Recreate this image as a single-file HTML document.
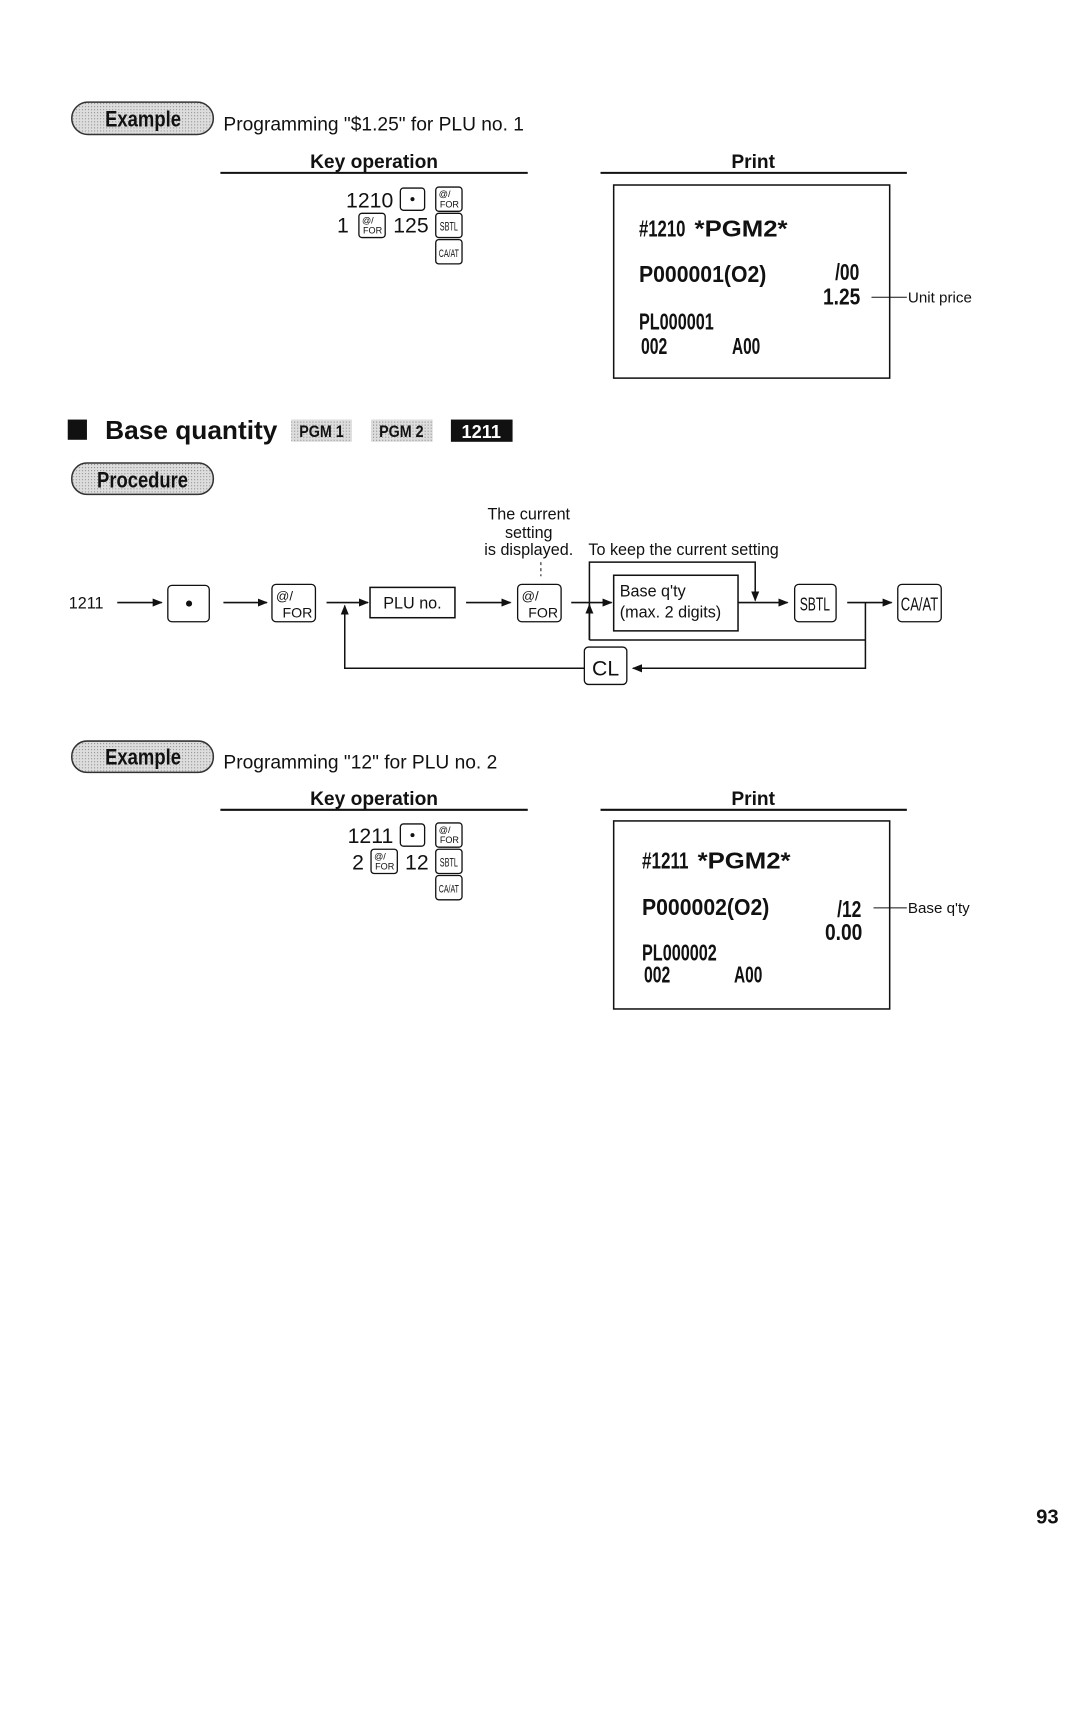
<!DOCTYPE html>
<html><head><meta charset="utf-8"><style>
html,body{margin:0;padding:0;background:#fff;}
svg{display:block;}
text{font-family:"Liberation Sans",sans-serif;fill:#111;}
.n{font-family:"Liberation Sans",sans-serif;}
.r{font-family:"Liberation Sans",sans-serif;font-weight:bold;font-size:23px;}
.k{fill:#fff;stroke:#111;stroke-width:1.3;}
.l{stroke:#111;stroke-width:1.5;fill:none;}
</style></head><body>
<svg width="1080" height="1710" viewBox="0 0 1080 1710" xmlns="http://www.w3.org/2000/svg">
<defs>
<pattern id="dot" width="3" height="3" patternUnits="userSpaceOnUse"><rect width="3" height="3" fill="#ddd"/><rect width="1" height="1" fill="#888"/></pattern>
<marker id="a" markerWidth="10" markerHeight="8" refX="9" refY="4" orient="auto" markerUnits="userSpaceOnUse"><path d="M0,0 L10,4 L0,8 z" fill="#111"/></marker>
</defs>
<g transform="scale(1.011)">
<!-- Example 1 -->
<rect x="71" y="101" width="140" height="32" rx="16" fill="url(#dot)" stroke="#333" stroke-width="1.5"/>
<text x="104" y="125" font-size="22" font-weight="bold" textLength="75" lengthAdjust="spacingAndGlyphs">Example</text>
<text x="221" y="129" font-size="19">Programming "$1.25" for PLU no. 1</text>
<text x="370" y="166" text-anchor="middle" font-size="19" font-weight="bold">Key operation</text>
<line x1="218" y1="171" x2="522" y2="171" stroke="#111" stroke-width="2"/>
<text x="745" y="166" text-anchor="middle" font-size="19" font-weight="bold">Print</text>
<line x1="594" y1="171" x2="897" y2="171" stroke="#111" stroke-width="2"/>

<text x="389" y="205" text-anchor="end" font-size="21">1210</text>
<rect class="k" x="396" y="186" width="24" height="22" rx="3"/><circle cx="408" cy="197" r="2" fill="#111"/>
<rect class="k" x="431" y="185" width="26" height="24" rx="3"/><text x="434" y="195" font-size="9">@/</text><text x="454" y="205" text-anchor="end" font-size="9">FOR</text>
<text x="345" y="230" text-anchor="end" font-size="21">1</text>
<rect class="k" x="355" y="211" width="26" height="24" rx="3"/><text x="358" y="221" font-size="9">@/</text><text x="378" y="231" text-anchor="end" font-size="9">FOR</text>
<text x="424" y="230" text-anchor="end" font-size="21">125</text>
<rect class="k" x="431" y="211" width="26" height="24" rx="3"/><text x="435" y="228" font-size="12" textLength="18" lengthAdjust="spacingAndGlyphs">SBTL</text>
<rect class="k" x="431" y="237" width="26" height="24" rx="3"/><text x="434" y="254" font-size="11" textLength="20" lengthAdjust="spacingAndGlyphs">CA/AT</text>

<rect x="607" y="183" width="273" height="191" fill="none" stroke="#111" stroke-width="1.5"/>
<text x="632" y="234" class="r" textLength="46" lengthAdjust="spacingAndGlyphs">#1210</text>
<text x="687" y="234" class="r" font-size="24" textLength="92" lengthAdjust="spacingAndGlyphs">*PGM2*</text>
<text x="632" y="279" class="r" textLength="126" lengthAdjust="spacingAndGlyphs">P000001(O2)</text>
<text x="826" y="277" class="r" textLength="24" lengthAdjust="spacingAndGlyphs">/00</text>
<text x="814" y="301" class="r" textLength="37" lengthAdjust="spacingAndGlyphs">1.25</text>
<line x1="862" y1="294" x2="897" y2="294" stroke="#111" stroke-width="1"/>
<text x="898" y="299" font-size="15">Unit price</text>
<text x="632" y="326" class="r" textLength="74" lengthAdjust="spacingAndGlyphs">PL000001</text>
<text x="634" y="350" class="r" textLength="26" lengthAdjust="spacingAndGlyphs">002</text><text x="724" y="350" class="r" textLength="28" lengthAdjust="spacingAndGlyphs">A00</text>

<!-- Heading -->
<rect x="67" y="415" width="19" height="20" fill="#111"/>
<text x="104" y="434" font-size="26" font-weight="bold">Base quantity</text>
<rect x="288" y="415" width="60" height="22" fill="url(#dot)"/><text x="296" y="432" font-size="16" font-weight="bold" textLength="44" lengthAdjust="spacingAndGlyphs">PGM 1</text>
<rect x="367" y="415" width="61" height="22" fill="url(#dot)"/><text x="375" y="432" font-size="16" font-weight="bold" textLength="44" lengthAdjust="spacingAndGlyphs">PGM 2</text>
<rect x="446" y="415" width="61" height="22" fill="#111"/><text x="476" y="433" text-anchor="middle" font-size="18" font-weight="bold" style="fill:#fff">1211</text>

<rect x="71" y="458" width="140" height="31" rx="15" fill="url(#dot)" stroke="#333" stroke-width="1.5"/>
<text x="96" y="482" font-size="22" font-weight="bold" textLength="90" lengthAdjust="spacingAndGlyphs">Procedure</text>

<!-- Diagram -->
<text x="523" y="514" text-anchor="middle" font-size="16">The current</text>
<text x="523" y="532" text-anchor="middle" font-size="16">setting</text>
<text x="523" y="549" text-anchor="middle" font-size="16">is displayed.</text>
<line x1="535" y1="556" x2="535" y2="570" stroke="#111" stroke-width="1" stroke-dasharray="3,3"/>
<text x="582" y="549" font-size="16">To keep the current setting</text>

<text x="68" y="602" font-size="16">1211</text>
<line class="l" x1="116" y1="596" x2="160" y2="596" marker-end="url(#a)"/>
<rect class="k" x="166" y="579" width="41" height="36" rx="4"/><circle cx="187" cy="597" r="3" fill="#111"/>
<line class="l" x1="221" y1="596" x2="264" y2="596" marker-end="url(#a)"/>
<rect class="k" x="269" y="578" width="43" height="37" rx="4"/><text x="273" y="594" font-size="13">@/</text><text x="309" y="611" text-anchor="end" font-size="14">FOR</text>
<line class="l" x1="323" y1="596" x2="364" y2="596" marker-end="url(#a)"/>
<rect x="366" y="581" width="84" height="30" fill="#fff" stroke="#111" stroke-width="1.5"/>
<text x="408" y="602" text-anchor="middle" font-size="16">PLU no.</text>
<line class="l" x1="461" y1="596" x2="505" y2="596" marker-end="url(#a)"/>
<rect class="k" x="512" y="578" width="43" height="37" rx="4"/><text x="516" y="594" font-size="13">@/</text><text x="552" y="611" text-anchor="end" font-size="14">FOR</text>
<line class="l" x1="565" y1="596" x2="605" y2="596" marker-end="url(#a)"/>
<rect x="607" y="569" width="123" height="55" fill="#fff" stroke="#111" stroke-width="1.5"/>
<text x="613" y="590" font-size="16">Base q'ty</text>
<text x="613" y="611" font-size="16">(max. 2 digits)</text>
<polyline class="l" points="583,633 583,556 747,556 747,594" marker-end="url(#a)"/>
<line class="l" x1="583" y1="633" x2="583" y2="598" marker-end="url(#a)"/>
<line class="l" x1="583" y1="633" x2="856" y2="633"/>
<line class="l" x1="730" y1="596" x2="779" y2="596" marker-end="url(#a)"/>
<rect class="k" x="786" y="578" width="41" height="37" rx="4"/><text x="791" y="604" font-size="18" textLength="30" lengthAdjust="spacingAndGlyphs">SBTL</text>
<line class="l" x1="838" y1="596" x2="882" y2="596" marker-end="url(#a)"/>
<rect class="k" x="888" y="578" width="43" height="37" rx="4"/><text x="891" y="604" font-size="18" textLength="37" lengthAdjust="spacingAndGlyphs">CA/AT</text>
<polyline class="l" points="856,596 856,661 626,661" marker-end="url(#a)"/>
<rect class="k" x="578" y="640" width="42" height="37" rx="4"/><text x="599" y="668" text-anchor="middle" font-size="21">CL</text>
<polyline class="l" points="578,661 341,661 341,599" marker-end="url(#a)"/>

<!-- Example 2 -->
<rect x="71" y="733" width="140" height="31" rx="15" fill="url(#dot)" stroke="#333" stroke-width="1.5"/>
<text x="104" y="756" font-size="22" font-weight="bold" textLength="75" lengthAdjust="spacingAndGlyphs">Example</text>
<text x="221" y="760" font-size="19">Programming "12" for PLU no. 2</text>
<text x="370" y="796" text-anchor="middle" font-size="19" font-weight="bold">Key operation</text>
<line x1="218" y1="801" x2="522" y2="801" stroke="#111" stroke-width="2"/>
<text x="745" y="796" text-anchor="middle" font-size="19" font-weight="bold">Print</text>
<line x1="594" y1="801" x2="897" y2="801" stroke="#111" stroke-width="2"/>

<text x="389" y="834" text-anchor="end" font-size="21">1211</text>
<rect class="k" x="396" y="815" width="24" height="22" rx="3"/><circle cx="408" cy="826" r="2" fill="#111"/>
<rect class="k" x="431" y="814" width="26" height="24" rx="3"/><text x="434" y="824" font-size="9">@/</text><text x="454" y="834" text-anchor="end" font-size="9">FOR</text>
<text x="360" y="860" text-anchor="end" font-size="21">2</text>
<rect class="k" x="367" y="840" width="26" height="24" rx="3"/><text x="370" y="850" font-size="9">@/</text><text x="390" y="860" text-anchor="end" font-size="9">FOR</text>
<text x="424" y="860" text-anchor="end" font-size="21">12</text>
<rect class="k" x="431" y="840" width="26" height="24" rx="3"/><text x="435" y="857" font-size="12" textLength="18" lengthAdjust="spacingAndGlyphs">SBTL</text>
<rect class="k" x="431" y="866" width="26" height="24" rx="3"/><text x="434" y="883" font-size="11" textLength="20" lengthAdjust="spacingAndGlyphs">CA/AT</text>

<rect x="607" y="812" width="273" height="186" fill="none" stroke="#111" stroke-width="1.5"/>
<text x="635" y="859" class="r" textLength="46" lengthAdjust="spacingAndGlyphs">#1211</text>
<text x="690" y="859" class="r" font-size="24" textLength="92" lengthAdjust="spacingAndGlyphs">*PGM2*</text>
<text x="635" y="905" class="r" textLength="126" lengthAdjust="spacingAndGlyphs">P000002(O2)</text>
<text x="828" y="907" class="r" textLength="24" lengthAdjust="spacingAndGlyphs">/12</text>
<text x="816" y="930" class="r" textLength="37" lengthAdjust="spacingAndGlyphs">0.00</text>
<line x1="864" y1="898" x2="897" y2="898" stroke="#111" stroke-width="1"/>
<text x="898" y="903" font-size="15">Base q'ty</text>
<text x="635" y="950" class="r" textLength="74" lengthAdjust="spacingAndGlyphs">PL000002</text>
<text x="637" y="972" class="r" textLength="26" lengthAdjust="spacingAndGlyphs">002</text><text x="726" y="972" class="r" textLength="28" lengthAdjust="spacingAndGlyphs">A00</text>

<text x="1036" y="1507" text-anchor="middle" font-size="20" font-weight="bold">93</text>
</g>
</svg>
</body></html>
